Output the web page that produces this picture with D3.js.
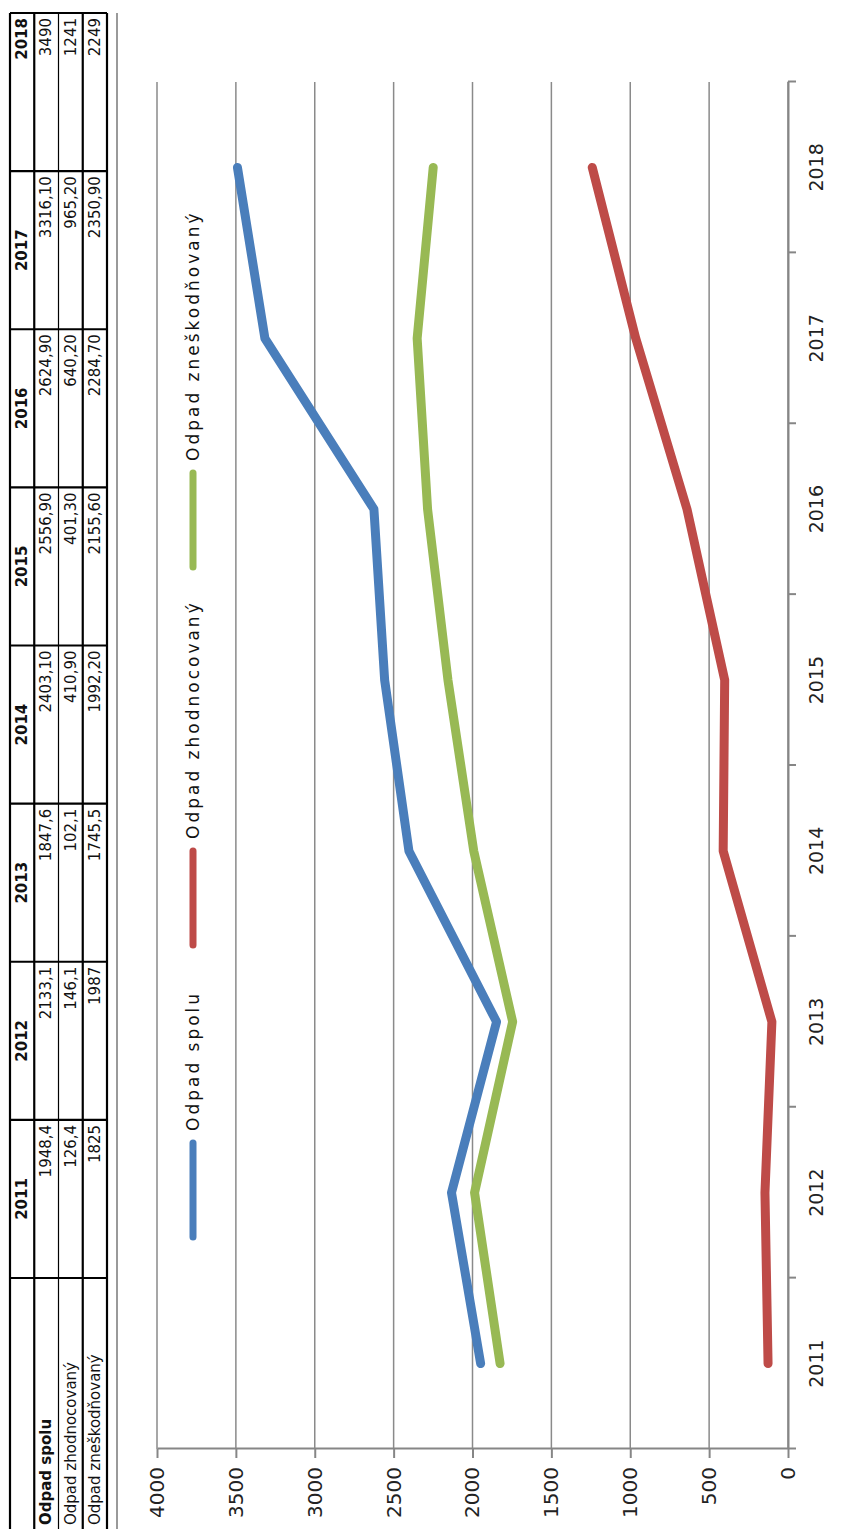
<!DOCTYPE html>
<html lang="sk">
<head>
<meta charset="UTF-8">
<script src="https://cdn.jsdelivr.net/npm/d3@7"></script>
<title>Odpad</title>
<style>
  body { margin: 0; background: #fff; }
  svg text { font-family: "DejaVu Sans", sans-serif; fill: #222; }
  .grid line { stroke: #8a8a8a; stroke-width: 1.5; }
  .axis path, .axis line { stroke: #868686; stroke-width: 2; }
  .axis text { font-size: 19px; }
  .axis.val text { font-size: 20px; }
  .tbl text { font-size: 15px; fill: #111; }
  .tbl .hd { font-weight: bold; }
  .tbl line { stroke: #000; }
  .legend text { font-size: 17px; letter-spacing: 3px; fill: #111; }
</style>
</head>
<body>
<div id="container"></div>
<script>
// data
var years = ["2011","2012","2013","2014","2015","2016","2017","2018"];
var seriesNames = ["Odpad spolu", "Odpad zhodnocovaný", "Odpad zneškodňovaný"];
var spolu = [1948.4, 2133.1, 1847.6, 2403.1, 2556.9, 2624.9, 3316.1, 3490];
var zhodnocovany = [126.4, 146.1, 102.1, 410.9, 401.3, 640.2, 965.2, 1241];
var zneskodnovany = [1825, 1987, 1745.5, 1992.2, 2155.6, 2284.7, 2350.9, 2249];
// values as written in the table
var txtSpolu = ["1948,4","2133,1","1847,6","2403,10","2556,90","2624,90","3316,10","3490"];
var txtZhodn = ["126,4","146,1","102,1","410,90","401,30","640,20","965,20","1241"];
var txtZnesk = ["1825","1987","1745,5","1992,20","2155,60","2284,70","2350,90","2249"];
var valueTicks = [0, 500, 1000, 1500, 2000, 2500, 3000, 3500, 4000];

var colors = ["#4a7ebb", "#be4b48", "#98b954"];

const W = 843, H = 1529;
// the chart is drawn landscape (H wide, W tall) and turned a quarter left
const svg = d3.select("#container").append("svg")
    .attr("width", W).attr("height", H);
const g = svg.append("g").attr("transform", `translate(0,${H}) rotate(-90)`);

const plot = {left: 80, right: 1447, top: 157, bottom: 788};

var x = d3.scaleBand().domain(years).range([plot.left, plot.right]);
var xi = d3.scaleLinear().domain([0, years.length]).range([plot.left, plot.right]);
var y = d3.scaleLinear().domain([0, 4000]).range([plot.bottom, plot.top]);

// chart area border line
g.append("line")
  .attr("x1", 0).attr("x2", 1516).attr("y1", 117).attr("y2", 117)
  .attr("stroke", "#9a9a9a").attr("stroke-width", 2);

// grid
g.append("g").attr("class", "grid")
  .selectAll("line").data(valueTicks).enter().append("line")
  .attr("x1", plot.left).attr("x2", plot.right)
  .attr("y1", d => y(d)).attr("y2", d => y(d));

// value axis
g.append("g").attr("class", "axis val")
  .attr("transform", `translate(${plot.left},0)`)
  .call(d3.axisLeft(y).tickValues(valueTicks).tickFormat(d3.format("d"))
        .tickSize(9).tickSizeOuter(0).tickPadding(9));

// category axis: line + ticks at band edges
g.append("g").attr("class", "axis")
  .attr("transform", `translate(0,${plot.bottom})`)
  .call(d3.axisBottom(xi).ticks(years.length).tickSize(8).tickSizeOuter(0).tickFormat(""));
g.append("g").attr("class", "axis")
  .attr("transform", `translate(0,${plot.bottom})`)
  .call(d3.axisBottom(x).tickSize(0).tickPadding(22))
  .call(a => a.select(".domain").remove());

// lines
var series = [spolu, zhodnocovany, zneskodnovany];
var line = d3.line()
  .x((d, i) => x(years[i]) + x.bandwidth() / 2)
  .y(d => y(d));
g.append("g").selectAll("path").data(series).enter().append("path")
  .attr("d", line)
  .attr("fill", "none")
  .attr("stroke", (d, i) => colors[i])
  .attr("stroke-width", 9)
  .attr("stroke-linecap", "round")
  .attr("stroke-linejoin", "round");

// legend
var legendX = [292, 584, 962];
const leg = g.append("g").attr("class", "legend");
leg.selectAll("line").data(seriesNames).enter().append("line")
  .attr("x1", (d, i) => legendX[i]).attr("x2", (d, i) => legendX[i] + 94)
  .attr("y1", 193).attr("y2", 193)
  .attr("stroke", (d, i) => colors[i])
  .attr("stroke-width", 7).attr("stroke-linecap", "round");
leg.selectAll("text").data(seriesNames).enter().append("text")
  .attr("x", (d, i) => legendX[i] + 106).attr("y", 199)
  .text(d => d);

// table
var rowKeys = ["head"].concat(seriesNames);
var col = d3.scaleBand().domain(years).range([251, 1516]);
var row = d3.scaleBand().domain(rowKeys).range([10, 107]);
var tblTxt = [txtSpolu, txtZhodn, txtZnesk];
const tbl = g.append("g").attr("class", "tbl");

// horizontal rules
tbl.selectAll("line.h").data(rowKeys.concat(["end"])).enter().append("line")
  .attr("class", "h")
  .attr("x1", -5).attr("x2", 1516)
  .attr("y1", (d, i) => 10 + i * row.bandwidth())
  .attr("y2", (d, i) => 10 + i * row.bandwidth())
  .attr("stroke-width", (d, i) => i == 2 ? 1.2 : 2.2);
// vertical rules
tbl.selectAll("line.v").data(years.concat(["end"])).enter().append("line")
  .attr("class", "v")
  .attr("x1", (d, i) => col.range()[0] + i * col.bandwidth())
  .attr("x2", (d, i) => col.range()[0] + i * col.bandwidth())
  .attr("y1", 10).attr("y2", 107)
  .attr("stroke-width", 2.2);

// header years
tbl.selectAll("text.yr").data(years).enter().append("text")
  .attr("class", "hd yr")
  .attr("text-anchor", (d, i) => i == years.length - 1 ? "end" : "middle")
  .attr("x", (d, i) => i == years.length - 1 ? col(d) + col.bandwidth() - 5 : col(d) + col.bandwidth() / 2)
  .attr("y", row("head") + row.bandwidth() / 2 + 5)
  .text(d => d);

// row labels
tbl.selectAll("text.lbl").data(seriesNames).enter().append("text")
  .attr("class", (d, i) => i == 0 ? "hd lbl" : "lbl")
  .attr("x", 4)
  .attr("y", d => row(d) + row.bandwidth() / 2 + 5)
  .text(d => d);

// cell values
tblTxt.forEach(function(arr, r) {
  tbl.append("g").selectAll("text").data(arr).enter().append("text")
    .attr("text-anchor", "end")
    .attr("x", (d, i) => col(years[i]) + col.bandwidth() - 5)
    .attr("y", row(seriesNames[r]) + row.bandwidth() / 2 + 5)
    .text(d => d);
});
</script>
</body>
</html>
